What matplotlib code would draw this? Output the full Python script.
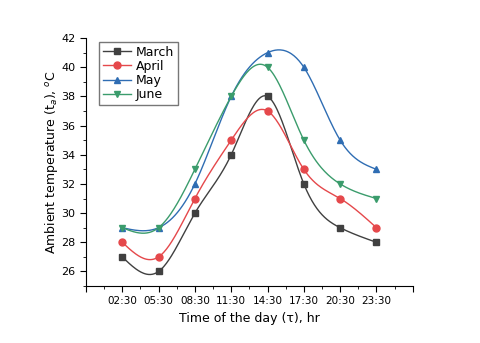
import numpy as np
import matplotlib.pyplot as plt
from matplotlib.ticker import MultipleLocator

# data
times = ['02:30', '05:30', '08:30', '11:30', '14:30', '17:30', '20:30', '23:30']
march = [27, 26, 30, 34, 38, 32, 29, 28]
april = [28, 27, 31, 35, 37, 33, 31, 29]
may = [29, 29, 32, 38, 41, 40, 35, 33]
june = [29, 29, 33, 38, 40, 35, 32, 31]


def spline(x, y, n=300):
    # natural cubic spline, just for the smooth connecting line
    x = np.asarray(x, float)
    y = np.asarray(y, float)
    k = len(x)
    h = np.diff(x)
    A = np.zeros((k, k))
    b = np.zeros(k)
    A[0, 0] = A[-1, -1] = 1
    for i in range(1, k - 1):
        A[i, i - 1] = h[i - 1]
        A[i, i] = 2 * (h[i - 1] + h[i])
        A[i, i + 1] = h[i]
        b[i] = 6 * ((y[i + 1] - y[i]) / h[i] - (y[i] - y[i - 1]) / h[i - 1])
    M = np.linalg.solve(A, b)
    xs = np.linspace(x[0], x[-1], n)
    idx = np.clip(np.searchsorted(x, xs) - 1, 0, k - 2)
    x0, x1 = x[idx], x[idx + 1]
    hh = x1 - x0
    t0 = x1 - xs
    t1 = xs - x0
    ys = (M[idx] * t0**3 + M[idx + 1] * t1**3) / (6 * hh) \
        + (y[idx] / hh - M[idx] * hh / 6) * t0 \
        + (y[idx + 1] / hh - M[idx + 1] * hh / 6) * t1
    return xs, ys


fig = plt.figure(figsize=(4.8, 3.43), dpi=100)
ax = fig.add_axes([0.179, 0.166, 0.681, 0.723])

x = np.arange(len(times))
series = [('March', march, '#404040', 's'),
          ('April', april, '#e5484b', 'o'),
          ('May', may, '#2f6db3', '^'),
          ('June', june, '#3b9c6c', 'v')]

for name, vals, col, mk in series:
    xs, ys = spline(x, vals)
    ax.plot(xs, ys, color=col, lw=1.0)
    ax.plot(x, vals, ls='none', marker=mk, color=col, ms=5)
    ax.plot([], [], color=col, lw=1.0, marker=mk, ms=5, label=name)

ax.set_xlim(-1, 8)
ax.set_ylim(25, 42)
ax.set_xticks(range(-1, 9))
ax.set_xticklabels([''] + times + [''], fontsize=7.5)
ax.xaxis.set_minor_locator(MultipleLocator(0.5))
ax.yaxis.set_major_locator(MultipleLocator(2))
ax.yaxis.set_minor_locator(MultipleLocator(1))
ax.tick_params(axis='y', labelsize=8)
ax.tick_params(which='major', length=4)
ax.tick_params(which='minor', length=2)
ax.spines['top'].set_visible(False)
ax.spines['right'].set_visible(False)

ax.set_xlabel('Time of the day (\u03c4), hr', fontsize=9)
ax.set_ylabel('Ambient temperature (t$_a$), $^o$C', fontsize=9, labelpad=1)

ax.legend(loc='upper left', fontsize=9, fancybox=False, edgecolor='#555555',
          handlelength=2.2, borderaxespad=0.3, labelspacing=0.1, handletextpad=0.4,
          borderpad=0.3, bbox_to_anchor=(0.03, 1.0))

plt.savefig('out.png', dpi=100)
